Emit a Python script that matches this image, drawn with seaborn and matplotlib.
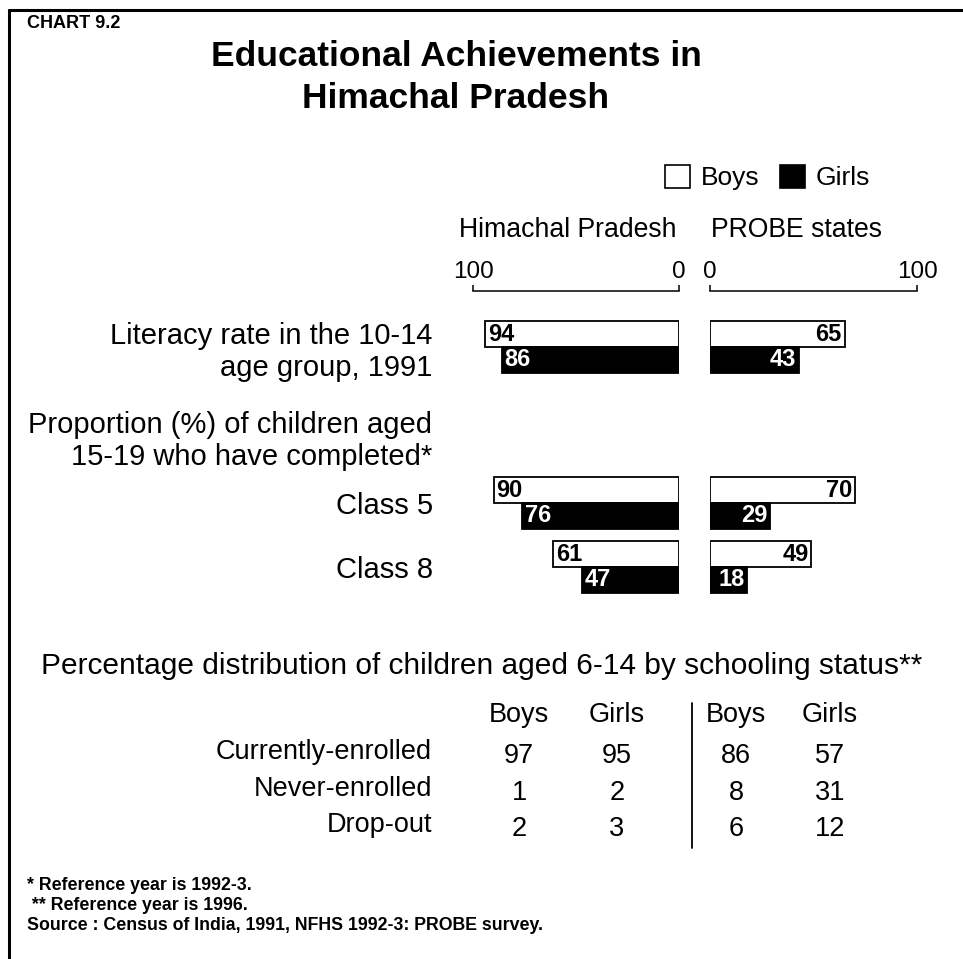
import matplotlib
matplotlib.use("Agg")
import matplotlib.pyplot as plt
from matplotlib.lines import Line2D
from matplotlib.patches import Patch
import pandas as pd
import seaborn as sns

# ---- data -------------------------------------------------------------
categories = ["Literacy rate in the 10-14\nage group, 1991", "Class 5", "Class 8"]
hp_boys = [94, 90, 61]
hp_girls = [86, 76, 47]
probe_boys = [65, 70, 49]
probe_girls = [43, 29, 18]

status_rows = ["Currently-enrolled", "Never-enrolled", "Drop-out"]
status_cols = ["Boys", "Girls", "Boys", "Girls"]
hp_status_boys = [97, 1, 2]
hp_status_girls = [95, 2, 3]
probe_status_boys = [86, 8, 6]
probe_status_girls = [57, 31, 12]

sexes = ["Boys", "Girls"]
footnotes = ["* Reference year is 1992-3.",
             " ** Reference year is 1996.",
             "Source : Census of India, 1991, NFHS 1992-3: PROBE survey."]

# ---- layout (figure pixels) -------------------------------------------
W, H = 963, 959
ROW_Y = [347, 503, 567]          # vertical centre of each bar pair
AX_TOP, AX_BOT = 291, 610


def fx(x):
    return x / W


def fy(y):
    return 1 - y / H


sns.set_theme(style="white")
plt.rcParams["font.family"] = ["Liberation Sans", "DejaVu Sans"]
plt.rcParams["text.color"] = "black"
plt.rcParams["xtick.color"] = "black"
plt.rcParams["ytick.color"] = "black"
plt.rcParams["axes.labelcolor"] = "black"

fig = plt.figure(figsize=(W / 100, H / 100), dpi=100)
fig.patch.set_facecolor("white")


def make_frame(values_boys, values_girls):
    return pd.DataFrame({
        "row": ROW_Y * 2,
        "value": list(values_boys) + list(values_girls),
        "sex": [sexes[0]] * len(values_boys) + [sexes[1]] * len(values_girls),
    })


def panel(x0, x1, boys, girls, reverse):
    ax = fig.add_axes([fx(x0), fy(AX_BOT), (x1 - x0) / W, (AX_BOT - AX_TOP) / H])
    ax.patch.set_alpha(0)
    sns.barplot(data=make_frame(boys, girls), x="value", y="row", hue="sex",
                hue_order=sexes, orient="h", native_scale=True, width=0.81,
                palette={"Boys": "white", "Girls": "black"},
                edgecolor="black", linewidth=1.3, errorbar=None,
                legend=False, ax=ax)
    ax.set_ylim(AX_BOT, AX_TOP)
    ax.set_xlim((100, 0) if reverse else (0, 100))
    for side in ["left", "right", "bottom"]:
        ax.spines[side].set_visible(False)
    ax.spines["top"].set_linewidth(1.1)
    ax.spines["top"].set_color("black")
    ax.xaxis.set_ticks_position("top")
    ax.set_xticks([0, 100])
    ax.tick_params(axis="x", direction="out", length=4.5, width=1.1,
                   pad=1.5, labelsize=17.5, colors="black")
    ax.set_xlabel("")
    ax.set_ylabel("")
    # value labels inside the outer end of each bar
    for container, tcol in zip(ax.containers, ["black", "white"]):
        for bar in container:
            v = bar.get_width()
            yc = bar.get_y() + bar.get_height() / 2
            ax.annotate(f"{v:.0f}", xy=(v, yc),
                        xytext=(2.0 if reverse else -2.0, 0),
                        textcoords="offset points",
                        ha="left" if reverse else "right", va="center",
                        fontsize=17, fontweight="bold", color=tcol)
    return ax


ax_hp = panel(473, 679, hp_boys, hp_girls, reverse=True)
ax_pr = panel(710, 917, probe_boys, probe_girls, reverse=False)

ax_hp.set_yticks(ROW_Y, labels=categories)
ax_hp.tick_params(axis="y", length=0, pad=29, labelsize=21, colors="black")
for lab in ax_hp.get_yticklabels():
    lab.set_multialignment("right")
    lab.set_linespacing(1.18)
ax_pr.set_yticks([])

# ---- frame ----------------------------------------------------------------
fig.add_artist(Line2D([fx(9), fx(9)], [fy(10), 0], color="black", lw=2.2))
fig.add_artist(Line2D([fx(9), 1], [fy(10), fy(10)], color="black", lw=2.2))

# ---- titles ---------------------------------------------------------------
fig.text(fx(27), fy(23), "CHART 9.2", fontsize=13, fontweight="bold",
         ha="left", va="center")
fig.text(fx(456), fy(56), "Educational Achievements in", fontsize=25.5,
         fontweight="bold", ha="center", va="center")
fig.text(fx(456), fy(98), "Himachal Pradesh", fontsize=25.5,
         fontweight="bold", ha="center", va="center")

# legend
handles = [Patch(facecolor="white", edgecolor="black", linewidth=1.2),
           Patch(facecolor="black", edgecolor="black", linewidth=1.2)]
fig.legend(handles=handles, labels=sexes, ncol=2, frameon=False,
           loc="upper left", bbox_to_anchor=(fx(665), fy(165)),
           fontsize=19, handlelength=0.95, handleheight=0.95,
           handletextpad=0.42, columnspacing=0.75, borderpad=0,
           borderaxespad=0)

fig.text(fx(568), fy(230), "Himachal Pradesh", fontsize=19.2,
         ha="center", va="center")
fig.text(fx(796), fy(230), "PROBE states", fontsize=19.2,
         ha="center", va="center")

fig.text(fx(432), fy(441), "Proportion (%) of children aged\n15-19 who have completed*",
         fontsize=21, ha="right", va="center", multialignment="right",
         linespacing=1.18)

# ---- schooling status table ------------------------------------------------
fig.text(fx(482), fy(666),
         "Percentage distribution of children aged 6-14 by schooling status**",
         fontsize=21.5, ha="center", va="center")

COL_X = [519, 617, 736, 830]
HEAD_Y = 715
ROW_LABEL_Y = [752, 789, 825]
ROW_VALUE_Y = [756, 793, 829]

for cx, name in zip(COL_X, status_cols):
    fig.text(fx(cx), fy(HEAD_Y), name, fontsize=19.5, ha="center", va="center")
for ry, name in zip(ROW_LABEL_Y, status_rows):
    fig.text(fx(432), fy(ry), name, fontsize=19.5, ha="right", va="center")
for cx, col in zip(COL_X, [hp_status_boys, hp_status_girls,
                           probe_status_boys, probe_status_girls]):
    for ry, v in zip(ROW_VALUE_Y, col):
        fig.text(fx(cx), fy(ry), f"{v}", fontsize=19.5, ha="center", va="center")
fig.add_artist(Line2D([fx(692), fx(692)], [fy(703), fy(848)],
                      color="black", lw=1.3))

# ---- footnotes ------------------------------------------------------------
for ty, note in zip([886, 906, 926], footnotes):
    fig.text(fx(27), fy(ty), note, fontsize=12.8, fontweight="bold",
             ha="left", va="center")

fig.savefig("out.png", dpi=100, facecolor="white")
